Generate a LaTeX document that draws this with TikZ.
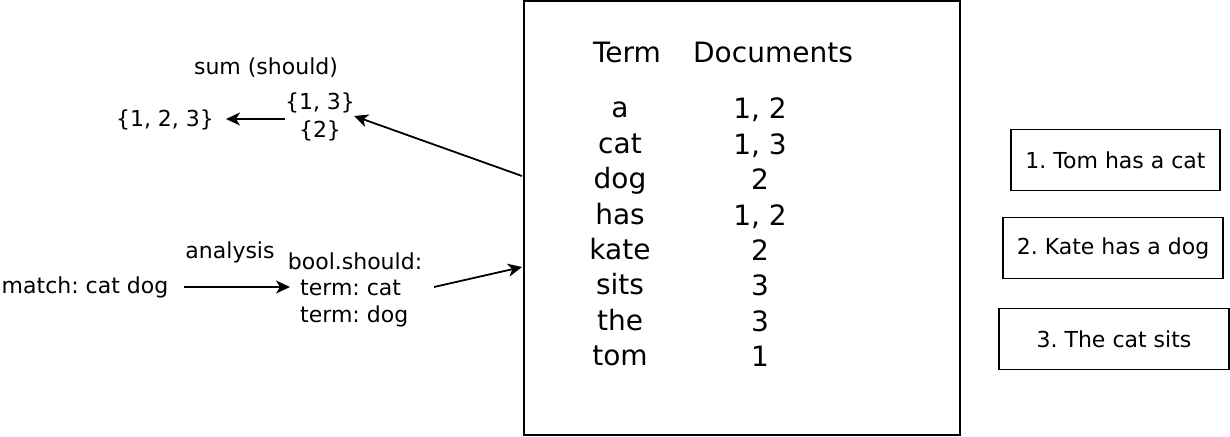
\documentclass[tikz,border=0pt]{standalone}
\usepackage{fontspec}
\setmainfont{DejaVu Sans}
\usetikzlibrary{arrows.meta}
\frenchspacing
\begin{document}
\frenchspacing
\begin{tikzpicture}[x=1pt,y=-1pt,
  small/.style={font=\fontsize{22}{28}\selectfont, inner sep=0pt, align=center},
  big/.style={font=\fontsize{28}{35.4}\selectfont, inner sep=0pt, align=center},
  docbox/.style={draw, line width=1.5pt, minimum height=61pt, inner sep=0pt, font=\fontsize{22}{28}\selectfont},
  arr/.style={line width=1.8pt, -{Stealth[length=14pt,width=13pt,inset=4pt]}}]
\useasboundingbox (0,0) rectangle (1230,436);
% index box
\node[draw, line width=1.5pt, minimum width=436pt, minimum height=434pt, inner sep=0pt] (idx) at (742,218) {};
\node[big] (term) at (627,52) {Term};
\node[big] (docs) at (773,52) {Documents};
\node[big, anchor=north] (terms) at (620,102) {a\\cat\\dog\\has\\kate\\sits\\the\\tom};
\node[big, anchor=north] (docl) at (760,98) {1, 2\\1, 3\\2\\1, 2\\2\\3\\3\\1};
% documents
\node[docbox, minimum width=209pt] (d1) at (1115.5,160) {1. Tom has a cat};
\node[docbox, minimum width=220pt] (d2) at (1113,248) {2. Kate has a dog};
\node[docbox, minimum width=230pt] (d3) at (1114,339) {3. The cat sits};
% query
\node[small] (q) at (85,287) {match: cat dog};
\node[small] (an) at (230,252) {analysis};
\node[small] (bs) at (355,261) {bool.should:};
\node[small, anchor=west] (tc) at (300,288) {term: cat};
\node[small, anchor=west] (td) at (300,316) {term: dog};
\coordinate (qs) at (184,287);
\coordinate (qe) at (290,287);
\draw[arr] (qs) -- (qe);
\coordinate (bq) at (434,287);
\coordinate (bi) at (522,267);
\draw[arr] (bq) -- (bi);
% results
\node[small] (sum) at (266,68) {sum (should)};
\node[small] (sets) at (320,117) {\{1, 3\}\\\{2\}};
\node[small] (res) at (165,120) {\{1, 2, 3\}};
\coordinate (io) at (522,176);
\coordinate (si) at (354,116);
\draw[arr] (io) -- (si);
\coordinate (ss) at (285,119);
\coordinate (se) at (226,119);
\draw[arr] (ss) -- (se);
\end{tikzpicture}
\end{document}
